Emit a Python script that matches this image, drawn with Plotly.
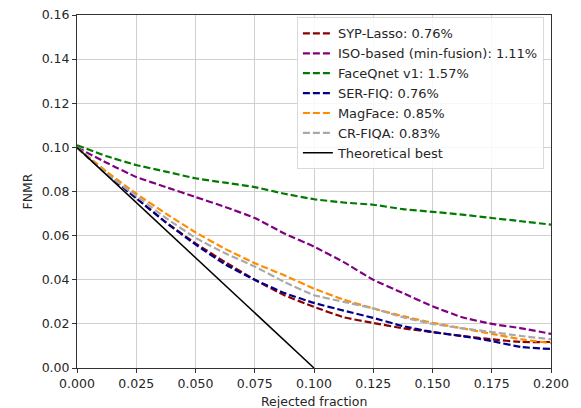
import plotly.graph_objects as go

x = [0, 0.0125, 0.025, 0.0375, 0.05, 0.0625, 0.075, 0.0875, 0.1, 0.1125, 0.125, 0.1375, 0.15, 0.1625, 0.175, 0.1875, 0.2]

syp_lasso = [0.1, 0.088, 0.077, 0.066, 0.0565, 0.048, 0.040, 0.033, 0.0277, 0.023, 0.0204, 0.018, 0.0163, 0.0145, 0.013, 0.0118, 0.0118]
iso_based = [0.1, 0.093, 0.0866, 0.082, 0.0775, 0.073, 0.068, 0.061, 0.055, 0.048, 0.040, 0.034, 0.028, 0.023, 0.020, 0.018, 0.0155]
faceqnet = [0.101, 0.096, 0.092, 0.089, 0.086, 0.084, 0.082, 0.079, 0.0765, 0.075, 0.074, 0.072, 0.0708, 0.0695, 0.068, 0.0665, 0.065]
ser_fiq = [0.1, 0.088, 0.077, 0.066, 0.056, 0.047, 0.040, 0.034, 0.0295, 0.026, 0.0227, 0.019, 0.0163, 0.0145, 0.0122, 0.0095, 0.0086]
magface = [0.1, 0.089, 0.079, 0.070, 0.0615, 0.054, 0.0475, 0.042, 0.036, 0.031, 0.027, 0.0235, 0.0205, 0.018, 0.0155, 0.013, 0.0113]
cr_fiqa = [0.1, 0.088, 0.078, 0.068, 0.059, 0.052, 0.046, 0.039, 0.033, 0.030, 0.027, 0.023, 0.020, 0.018, 0.0163, 0.0145, 0.013]

best_x = [0, 0.1]
best_y = [0.1, 0]

x_ticks = [0, 0.025, 0.05, 0.075, 0.1, 0.125, 0.15, 0.175, 0.2]
x_ticktext = ["0.000", "0.025", "0.050", "0.075", "0.100", "0.125", "0.150", "0.175", "0.200"]
y_ticks = [0, 0.02, 0.04, 0.06, 0.08, 0.1, 0.12, 0.14, 0.16]
y_ticktext = ["0.00", "0.02", "0.04", "0.06", "0.08", "0.10", "0.12", "0.14", "0.16"]

series = [
    ("SYP-Lasso: 0.76%", syp_lasso, "#8B0000"),
    ("ISO-based (min-fusion): 1.11%", iso_based, "#800080"),
    ("FaceQnet v1: 1.57%", faceqnet, "#007a00"),
    ("SER-FIQ: 0.76%", ser_fiq, "#00008B"),
    ("MagFace: 0.85%", magface, "#FF8C00"),
    ("CR-FIQA: 0.83%", cr_fiqa, "#A9A9A9"),
]

FONT = "DejaVu Sans"
TXT = "#262626"

fig = go.Figure()
for name, y, c in series:
    fig.add_trace(go.Scatter(x=x, y=y, name=name, mode="lines",
                             line=dict(color=c, width=2.2, dash="7px,3px", shape="spline", smoothing=0.4)))
fig.add_trace(go.Scatter(x=best_x, y=best_y, name="Theoretical best", mode="lines",
                         line=dict(color="black", width=1.5)))

axis_common = dict(showgrid=True, gridcolor="#cfcfcf", gridwidth=1, showline=True,
                   linecolor="#333", linewidth=1, mirror=True, ticks="outside",
                   ticklen=4, tickcolor="#333", zeroline=False, automargin=False,
                   tickfont=dict(family=FONT, size=12.5, color=TXT))

fig.update_layout(
    width=581, height=408,
    margin=dict(l=77, r=30, t=15, b=40),
    paper_bgcolor="white", plot_bgcolor="white",
    font=dict(family=FONT, size=12.5, color=TXT),
    xaxis=dict(range=[0, 0.2], tickvals=x_ticks, ticktext=x_ticktext, **axis_common),
    yaxis=dict(range=[0, 0.16], tickvals=y_ticks, ticktext=y_ticktext, **axis_common),
    legend=dict(x=0.985, y=0.993, xanchor="right", yanchor="top", bgcolor="rgba(255,255,255,0.85)",
                bordercolor="#d9d9d9", borderwidth=1, font=dict(size=13, family=FONT, color=TXT),
                tracegroupgap=0, itemwidth=30),
    showlegend=True,
    annotations=[
        dict(text="Rejected fraction", xref="paper", yref="paper", x=0.5, y=0,
             xanchor="center", yanchor="top", yshift=-24, showarrow=False,
             font=dict(family=FONT, size=12.5, color=TXT)),
        dict(text="FNMR", xref="paper", yref="paper", x=0, y=0.5, xshift=-50,
             xanchor="center", yanchor="middle", textangle=-90, showarrow=False,
             font=dict(family=FONT, size=12.5, color=TXT)),
    ],
)

fig.write_html("out.html", config={"displayModeBar": False},
               post_script="document.body.style.margin='0';document.body.style.overflow='hidden';")
